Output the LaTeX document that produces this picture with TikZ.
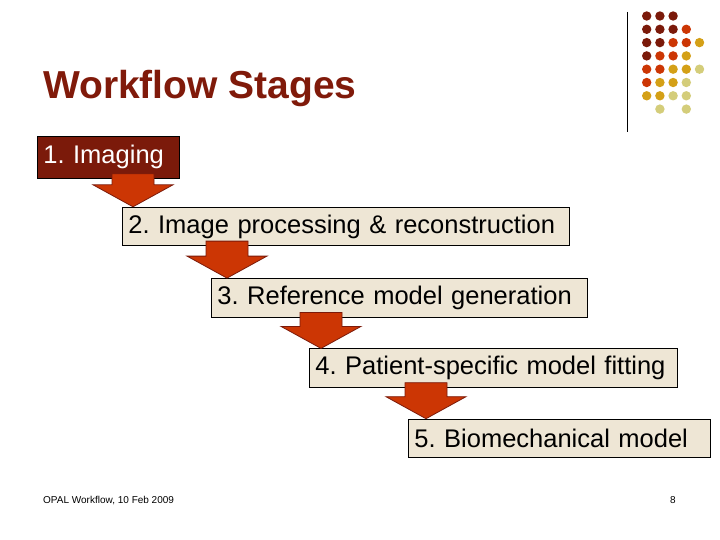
\documentclass[tikz,border=0pt]{standalone}
\usepackage{fontspec}
\setmainfont{Liberation Sans}
\usepackage{tikz}
\usetikzlibrary{positioning,calc}

\definecolor{titlered}{RGB}{128,26,10}
\definecolor{darkrust}{RGB}{123,26,10}
\definecolor{rust}{RGB}{204,54,4}
\definecolor{ochre}{RGB}{212,160,23}
\definecolor{khaki}{RGB}{212,205,122}
\definecolor{parchment}{RGB}{238,230,213}

% block arrow from one stage down to the next
\newcommand{\stagearrow}[3]{%
  \coordinate (#1 out) at ([xshift=#3]#1.south west);
  \coordinate (#2 in) at (#1 out |- #2.north);
  \draw[flow] ([shift={(-21pt,5pt)}]#1 out) -- ([shift={(-21pt,22pt)}]#2 in)
    -- ([shift={(-40pt,22pt)}]#2 in) -- (#2 in) -- ([shift={(40pt,22pt)}]#2 in)
    -- ([shift={(21pt,22pt)}]#2 in) -- ([shift={(21pt,5pt)}]#1 out) -- cycle;
}

\begin{document}
\begin{tikzpicture}[
    x=1pt, y=1pt,
    stage/.style={
        rectangle,
        anchor=north west,
        minimum height=38.5pt,
        inner xsep=6pt,
        inner ysep=0pt,
        align=left,
        draw=black,
        line width=0.8pt,
        fill=parchment,
        font=\fontsize{25.5}{30}\selectfont\frenchspacing,
        execute at begin node={\hyphenpenalty=10000\relax}
    },
    flow/.style={
        draw=darkrust,
        line width=0.8pt,
        fill=rust,
        line join=miter
    },
    dot/.style={
        circle,
        inner sep=0pt,
        minimum size=9.4pt
    }
]

\fill[white] (0,0) rectangle (720,-540);
\useasboundingbox (0,0) rectangle (720,-540);

\node[anchor=base west, inner sep=0pt, text=titlered, font=\fontsize{39}{44}\selectfont\bfseries] (title) at (43,-99) {Workflow Stages};

\node[stage, fill=darkrust, text=white, minimum height=42pt, text width=130pt] (A) at (37,-136) {1. Imaging};
\node[stage, text width=435pt, below right=28pt and 85pt of A.south west] (B) {2. Image processing \& reconstruction};
\node[stage, text width=364pt, below right=32pt and 89pt of B.south west] (C) {3. Reference model generation};
\node[stage, text width=356pt, below right=31pt and 98pt of C.south west] (D) {4. Patient-specific model fitting};
\node[stage, text width=290pt, below right=31pt and 99pt of D.south west] (E) {5. Biomechanical model};

\stagearrow{A}{B}{96pt}
\stagearrow{B}{C}{105pt}
\stagearrow{C}{D}{110pt}
\stagearrow{D}{E}{117pt}

% corner decoration
\draw[line width=0.8pt] (627,-12) -- (627,-132);
\foreach \col/\row/\clr in {
    0/0/darkrust, 1/0/darkrust, 2/0/darkrust,
    0/1/darkrust, 1/1/darkrust, 2/1/darkrust, 3/1/rust,
    0/2/darkrust, 1/2/darkrust, 2/2/rust, 3/2/rust, 4/2/ochre,
    0/3/darkrust, 1/3/rust, 2/3/rust, 3/3/ochre,
    0/4/rust, 1/4/rust, 2/4/ochre, 3/4/ochre, 4/4/khaki,
    0/5/rust, 1/5/ochre, 2/5/ochre, 3/5/khaki,
    0/6/ochre, 1/6/ochre, 2/6/khaki, 3/6/khaki,
    1/7/khaki, 3/7/khaki}
    \node[dot, fill=\clr] (dot-\col-\row) at (646.7+13.2*\col, -16-13.3*\row) {};

\node[anchor=base west, inner sep=0pt, font=\fontsize{10}{12}\selectfont] (footer) at (43,-503) {OPAL Workflow, 10 Feb 2009};
\node[anchor=base, inner sep=0pt, font=\fontsize{10}{12}\selectfont] (page) at (673,-503) {8};

\end{tikzpicture}
\end{document}
